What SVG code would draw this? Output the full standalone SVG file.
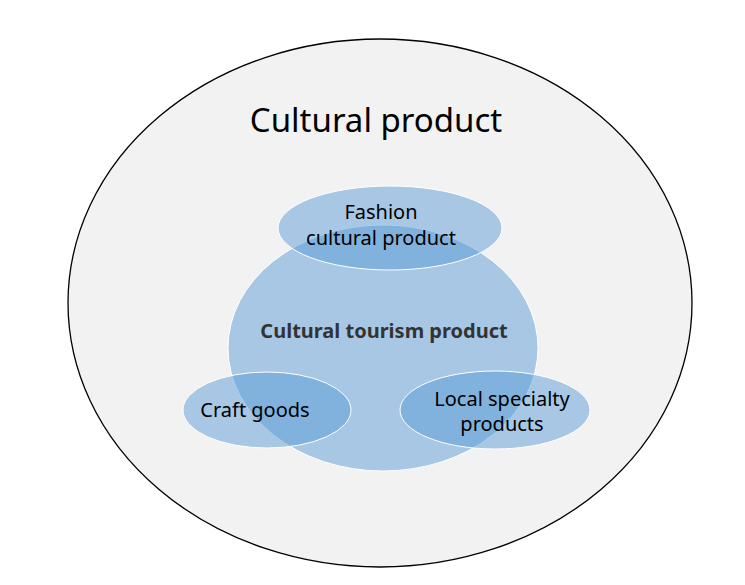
<svg xmlns="http://www.w3.org/2000/svg" width="745" height="585" viewBox="0 0 745 585">
<style>
.b{fill:#5b9bd5;fill-opacity:0.5;stroke:#fff;stroke-width:1}
text{font-family:"Noto Sans","Open Sans",sans-serif;fill:#000;text-anchor:middle}
.s{font-size:20px}
</style>
<rect width="745" height="585" fill="#fff"/>
<g id="outer"><ellipse cx="380" cy="303" rx="312" ry="264" fill="#f2f2f2" stroke="#000" stroke-width="1.3"/>
<text x="376" y="132" font-size="33">Cultural product</text></g>
<g id="tourism"><ellipse class="b" cx="383" cy="348" rx="155" ry="123"/></g>
<g id="fashion"><ellipse class="b" cx="390" cy="228" rx="112" ry="42"/>
<text class="s" x="381" y="219">Fashion</text><text class="s" x="381" y="245">cultural product</text></g>
<g id="craft"><ellipse class="b" cx="267" cy="410" rx="84" ry="38"/>
<text class="s" x="255" y="417">Craft goods</text></g>
<g id="local"><ellipse class="b" cx="495" cy="410" rx="95" ry="39"/>
<text class="s" x="502" y="406">Local specialty</text><text class="s" x="502" y="431">products</text></g>
<g id="tourism-label"><text x="384" y="338" font-size="20" font-weight="bold" style="fill:#333">Cultural tourism product</text></g>
<g id="connectors"/>
</svg>
